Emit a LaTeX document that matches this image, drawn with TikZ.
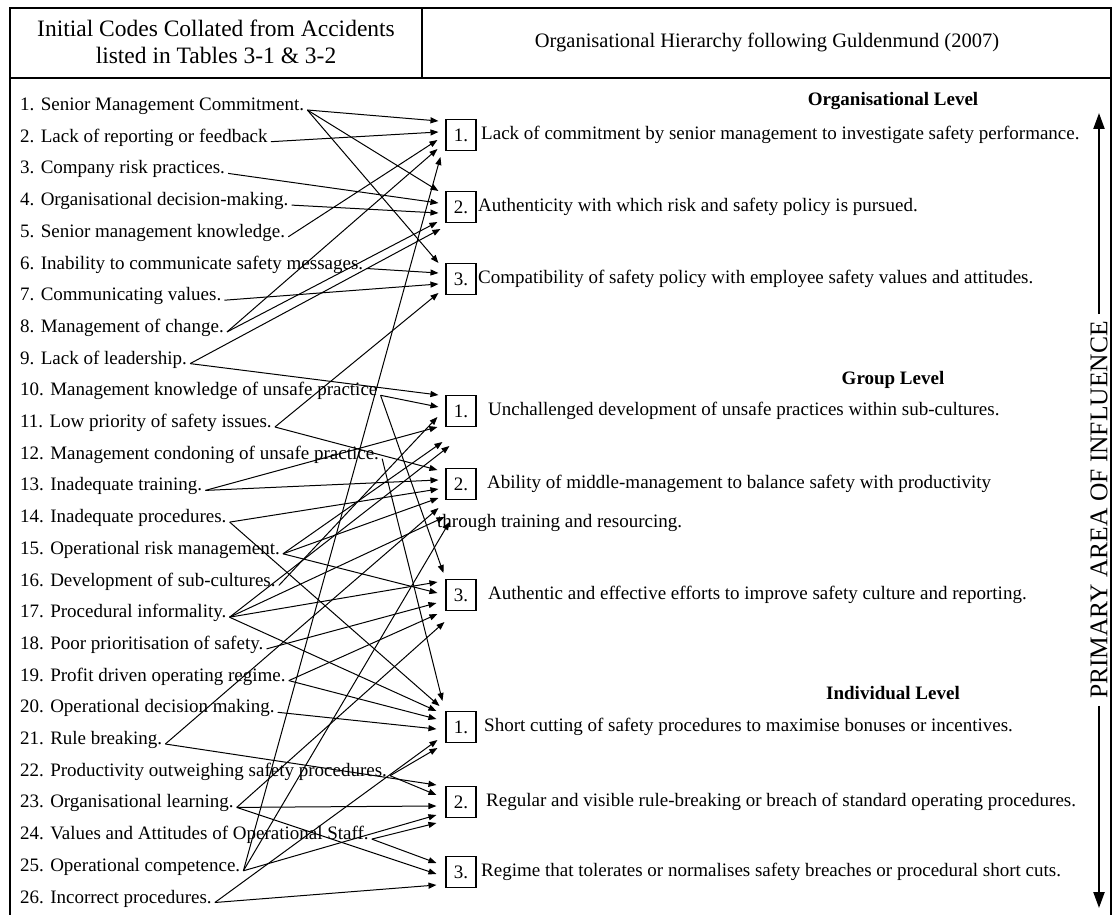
\documentclass[tikz,border=0pt]{standalone}
\usepackage{fontspec}
\setmainfont{Liberation Serif}
\usetikzlibrary{arrows.meta,calc}
\begin{document}
\begin{tikzpicture}[x=1pt,y=-1pt,
  code/.style={anchor=west,inner sep=0pt,text height=13pt,text depth=4pt,font=\fontsize{19}{22}\selectfont},
  body/.style={anchor=west,inner sep=0pt,font=\fontsize{19}{22}\selectfont},
  numbox/.style={draw,line width=1.1pt,minimum width=30pt,minimum height=31pt,inner sep=0pt,font=\fontsize{19}{22}\selectfont},
  level/.style={font=\bfseries\fontsize{19}{22}\selectfont},
  link/.style={line width=1pt,-{Triangle[length=8pt,width=6pt]}},
  frame/.style={line width=1.6pt},
  bigarrow/.style={line width=2.2pt,-{Triangle[length=16pt,width=11pt]}}]
\useasboundingbox (0,0) rectangle (1113,915);
\fill[white] (0,0) rectangle (1113,915);

% table frame and header row
\draw[frame] (10,915) -- (10,8) -- (1111,8) -- (1111,915);
\draw[frame] (10,78) -- (1111,78);
\draw[frame] (422,8) -- (422,78);
\node[font=\fontsize{23.5}{27}\selectfont,align=center] (hleft) at (216,42)
  {Initial Codes Collated from Accidents\\listed in Tables 3-1 \& 3-2};
\node[font=\fontsize{20.5}{24}\selectfont] (hright) at (767,42)
  {Organisational Hierarchy following Guldenmund (2007)};

% initial codes
\foreach \t [count=\k] in {
  Senior Management Commitment.,
  Lack of reporting or feedback,
  Company risk practices.,
  Organisational decision-making.,
  Senior management knowledge.,
  Inability to communicate safety messages.,
  Communicating values.,
  Management of change.,
  Lack of leadership.,
  Management knowledge of unsafe practice,
  Low priority of safety issues.,
  Management condoning of unsafe practice.,
  Inadequate training.,
  Inadequate procedures.,
  Operational risk management.,
  Development of sub-cultures.,
  Procedural informality.,
  Poor prioritisation of safety.,
  Profit driven operating regime.,
  Operational decision making.,
  Rule breaking.,
  Productivity outweighing safety procedures.,
  Organisational learning.,
  Values and Attitudes of Operational Staff.,
  Operational competence.,
  Incorrect procedures.}
  \node[code] (i\k) at (20,{106+(\k-1)*31.7}) {\k. \t};

% level headings
\node[level] (lorg) at (893,101) {Organisational Level};
\node[level] (lgrp) at (893,380) {Group Level};
\node[level] (lind) at (893,693) {Individual Level};

% organisational level
\node[numbox] (o1) at (461,135) {1.};
\node[body] (to1) at (481,135) {Lack of commitment by senior management to investigate safety performance.};
\node[numbox] (o2) at (461,207) {2.};
\node[body] (to2) at (478,207) {Authenticity with which risk and safety policy is pursued.};
\node[numbox] (o3) at (461,279) {3.};
\node[body] (to3) at (478,279) {Compatibility of safety policy with employee safety values and attitudes.};

% group level
\node[numbox] (g1) at (461,411) {1.};
\node[body] (tg1) at (488,411) {Unchallenged development of unsafe practices within sub-cultures.};
\node[numbox] (g2) at (461,484) {2.};
\node[body] (tg2) at (487,484) {Ability of middle-management to balance safety with productivity};
\node[body] (tg2b) at (437,523) {through training and resourcing.};
\node[numbox] (g3) at (461,595) {3.};
\node[body] (tg3) at (488,595) {Authentic and effective efforts to improve safety culture and reporting.};

% individual level
\node[numbox] (n1) at (461,727) {1.};
\node[body] (tn1) at (484,727) {Short cutting of safety procedures to maximise bonuses or incentives.};
\node[numbox] (n2) at (461,802) {2.};
\node[body] (tn2) at (486,802) {Regular and visible rule-breaking or breach of standard operating procedures.};
\node[numbox] (n3) at (461,872) {3.};
\node[body] (tn3) at (481,872) {Regime that tolerates or normalises safety breaches or procedural short cuts.};

% primary area of influence
\node[rotate=90,inner sep=7pt,font=\fontsize{25.5}{30}\selectfont] (pai) at (1099,510) {PRIMARY AREA OF INFLUENCE};
\coordinate (atop) at (1099,113);
\coordinate (abot) at (1099,908);
\draw[bigarrow] (pai.east) -- (atop);
\draw[bigarrow] (pai.west) -- (abot);

% code -> hierarchy links: source / target box / tip offset from the box's west side
\foreach \s/\b/\dx/\dy in {
  1/o1/-7/-14, 1/o2/-7/-16, 1/o3/-7/-16,
  2/o1/-7/-3,
  3/o2/-7/-4,
  4/o2/-7/6,
  5/o1/-8/5,
  6/o3/-7/-6,
  7/o3/-7/5,
  8/o1/-8/14, 8/o2/-8/15,
  9/o2/-5/22, 9/g1/-7/-16,
  10/g1/-7/-4, 10/g3/-2/-22,
  11/o3/-7/14, 11/g2/-8/-14,
  12/n1/-3/-26,
  13/g1/-8/16, 13/g2/-7/-4,
  14/g2/-7/5, 14/n1/-6/-21,
  15/g1/-3/31, 15/g2/-7/14, 15/g3/-8/-2,
  16/g1/-8/6,
  17/g1/4/35, 17/g2/-1/33, 17/g3/-8/-13, 17/n1/-9/-16,
  18/g3/-9/8,
  19/g3/-8/19, 19/n1/-9/-8,
  20/n1/-9/2,
  21/g2/-7/24, 21/n2/-9/-17,
  22/n1/-8/21, 22/n2/-9/-7,
  23/g3/-1/27, 23/n2/-9/4, 23/n3/-9/2,
  24/n2/-9/21, 24/n3/-9/-9,
  25/o1/-5/22, 25/g2/4/38, 25/n2/-9/13,
  26/n1/-8/13, 26/n3/-9/13}
  \draw[link] ($(i\s.east)+(3,4)$) -- ($(\b.west)+(\dx,\dy)$);
\end{tikzpicture}
\end{document}
